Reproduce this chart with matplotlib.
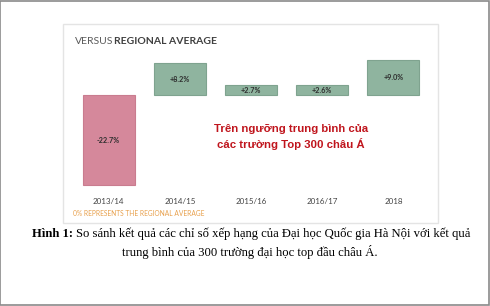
import matplotlib.pyplot as plt
from matplotlib.patches import Rectangle

# values relative to the regional average (%)
years = ["2013/14", "2014/15", "2015/16", "2016/17", "2018"]
diffs = [-22.7, 8.2, 2.7, 2.6, 9.0]
labels = ["-22.7%", "+8.2%", "+2.7%", "+2.6%", "+9.0%"]

W, H = 490, 306


def fx(px):
    return px / W


def fy(py):
    return 1 - py / H


fig = plt.figure(figsize=(4.9, 3.06), dpi=100)

# outer frame and the white card
fig.patches.append(Rectangle((0.001, 0.002), 0.997, 0.995, transform=fig.transFigure,
                             facecolor="white", edgecolor="#8a8a8a", lw=1.2, zorder=-2))
fig.patches.append(Rectangle((fx(63), fy(223)), fx(438 - 63), (223 - 24) / H,
                             transform=fig.transFigure, facecolor="white",
                             edgecolor="#e4e4e4", lw=1, zorder=-1))

ax = fig.add_axes([fx(73), fy(190.5), fx(356), (190.5 - 53.9) / H], zorder=1)
ax.set_xlim(-0.5, 4.5)
ax.set_ylim(-24, 10.5)
ax.axis("off")
ax.patch.set_alpha(0)

colors = ["#d5889b" if v < 0 else "#8fb49f" for v in diffs]
edges = ["#c97c8f" if v < 0 else "#7fa38f" for v in diffs]
ax.bar(range(len(years)), diffs, width=0.73, color=colors, edgecolor=edges, lw=0.8)

for i, v in enumerate(diffs):
    ax.text(i, v / 2, labels[i], ha="center", va="center", fontsize=5.2,
            fontweight="bold", color="#2e2e2e", family="Lato")
    ax.text(i, -26.0, years[i], ha="center", va="top", fontsize=5.8,
            color="#444444", family="Lato", clip_on=False)

# title
fig.text(fx(75), fy(42), "VERSUS", fontsize=7.5, color="#5a5a5a", family="Lato",
         va="center", ha="left")
fig.text(fx(114), fy(42), "REGIONAL AVERAGE", fontsize=7.5, color="#3f3f3f",
         family="Lato", fontweight="bold", va="center", ha="left")

fig.text(fx(73), fy(214), "0% REPRESENTS THE REGIONAL AVERAGE", fontsize=4.8,
         color="#e8a04c", family="Lato", va="center", ha="left")

# red annotation
fig.text(fx(291), fy(129), "Trên ngưỡng trung bình của", fontsize=8.2,
         color="#c0151d", family="Liberation Sans", fontweight="bold",
         ha="center", va="center")
fig.text(fx(291), fy(144), "các trường Top 300 châu Á", fontsize=8.2,
         color="#c0151d", family="Liberation Sans", fontweight="bold",
         ha="center", va="center")

# caption
fig.text(fx(32), fy(234), "Hình 1:", fontsize=9.1, fontweight="bold",
         family="Liberation Serif", color="black", ha="left", va="center")
fig.text(fx(76), fy(234),
         "So sánh kết quả các chỉ số xếp hạng của Đại học Quốc gia Hà Nội với kết quả",
         fontsize=9.1, family="Liberation Serif", color="black", ha="left", va="center")
fig.text(fx(250), fy(252), "trung bình của 300 trường đại học top đầu châu Á.",
         fontsize=9.1, family="Liberation Serif", color="black", ha="center", va="center")

fig.savefig("out.png", dpi=100)
